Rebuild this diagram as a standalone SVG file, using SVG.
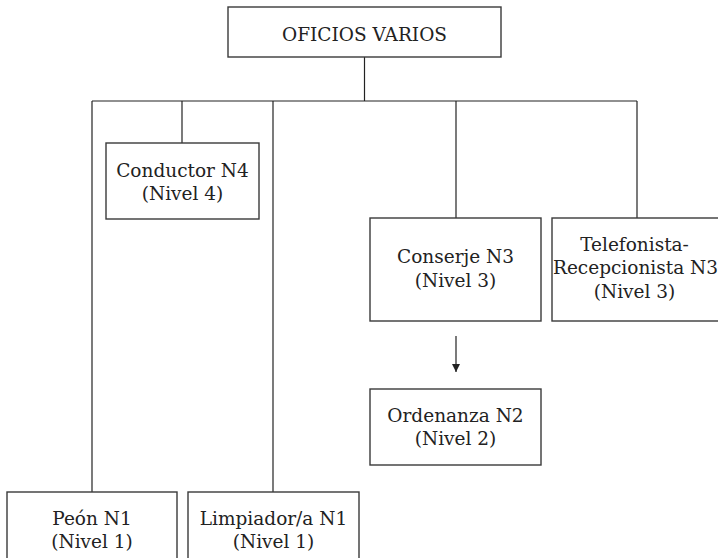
<svg xmlns="http://www.w3.org/2000/svg" width="718" height="558" viewBox="0 0 718 558">
<defs>
<style>
.box{fill:#fff;stroke:#3a3a3a;stroke-width:1.4}
.ln{fill:none;stroke:#222;stroke-width:1.2}
text{font-family:"DejaVu Serif","Liberation Serif",serif;font-size:18.5px;fill:#222;text-anchor:middle}
</style>
<marker id="ah" viewBox="0 0 10 10" refX="10" refY="5" markerWidth="11" markerHeight="8" markerUnits="userSpaceOnUse" orient="auto">
<path d="M0,0 L10,5 L0,10 Z" fill="#222"/>
</marker>
</defs>
<rect width="718" height="558" fill="#fff"/>
<g id="connectors">
<line class="ln" x1="364.5" y1="57" x2="364.5" y2="101"/>
<line class="ln" x1="92" y1="101" x2="637" y2="101"/>
<line class="ln" x1="92" y1="101" x2="92" y2="492"/>
<line class="ln" x1="182" y1="101" x2="182" y2="143"/>
<line class="ln" x1="273" y1="101" x2="273" y2="492"/>
<line class="ln" x1="456" y1="101" x2="456" y2="218"/>
<line class="ln" x1="637" y1="101" x2="637" y2="218"/>
<line class="ln" x1="456" y1="336" x2="456" y2="372" marker-end="url(#ah)"/>
</g>
<g id="oficios-varios">
<rect class="box" x="228" y="7" width="273" height="50"/>
<text x="364.5" y="41">OFICIOS VARIOS</text>
</g>
<g id="conductor">
<rect class="box" x="106" y="143" width="153" height="76"/>
<text x="182.5" y="177">Conductor N4</text>
<text x="182.5" y="200">(Nivel 4)</text>
</g>
<g id="conserje">
<rect class="box" x="370" y="218" width="171" height="103"/>
<text x="455.5" y="263">Conserje N3</text>
<text x="455.5" y="287">(Nivel 3)</text>
</g>
<g id="telefonista">
<rect class="box" x="552" y="218" width="170" height="103"/>
<text x="634.5" y="251">Telefonista-</text>
<text x="635.5" y="274">Recepcionista N3</text>
<text x="634.5" y="298">(Nivel 3)</text>
</g>
<g id="ordenanza">
<rect class="box" x="370" y="389" width="171" height="76"/>
<text x="455.5" y="422">Ordenanza N2</text>
<text x="455.5" y="445">(Nivel 2)</text>
</g>
<g id="peon">
<rect class="box" x="7" y="492" width="170" height="80"/>
<text x="92" y="525">Peón N1</text>
<text x="92" y="548">(Nivel 1)</text>
</g>
<g id="limpiador">
<rect class="box" x="188" y="492" width="171" height="80"/>
<text x="273.5" y="525">Limpiador/a N1</text>
<text x="273.5" y="548">(Nivel 1)</text>
</g>
</svg>
